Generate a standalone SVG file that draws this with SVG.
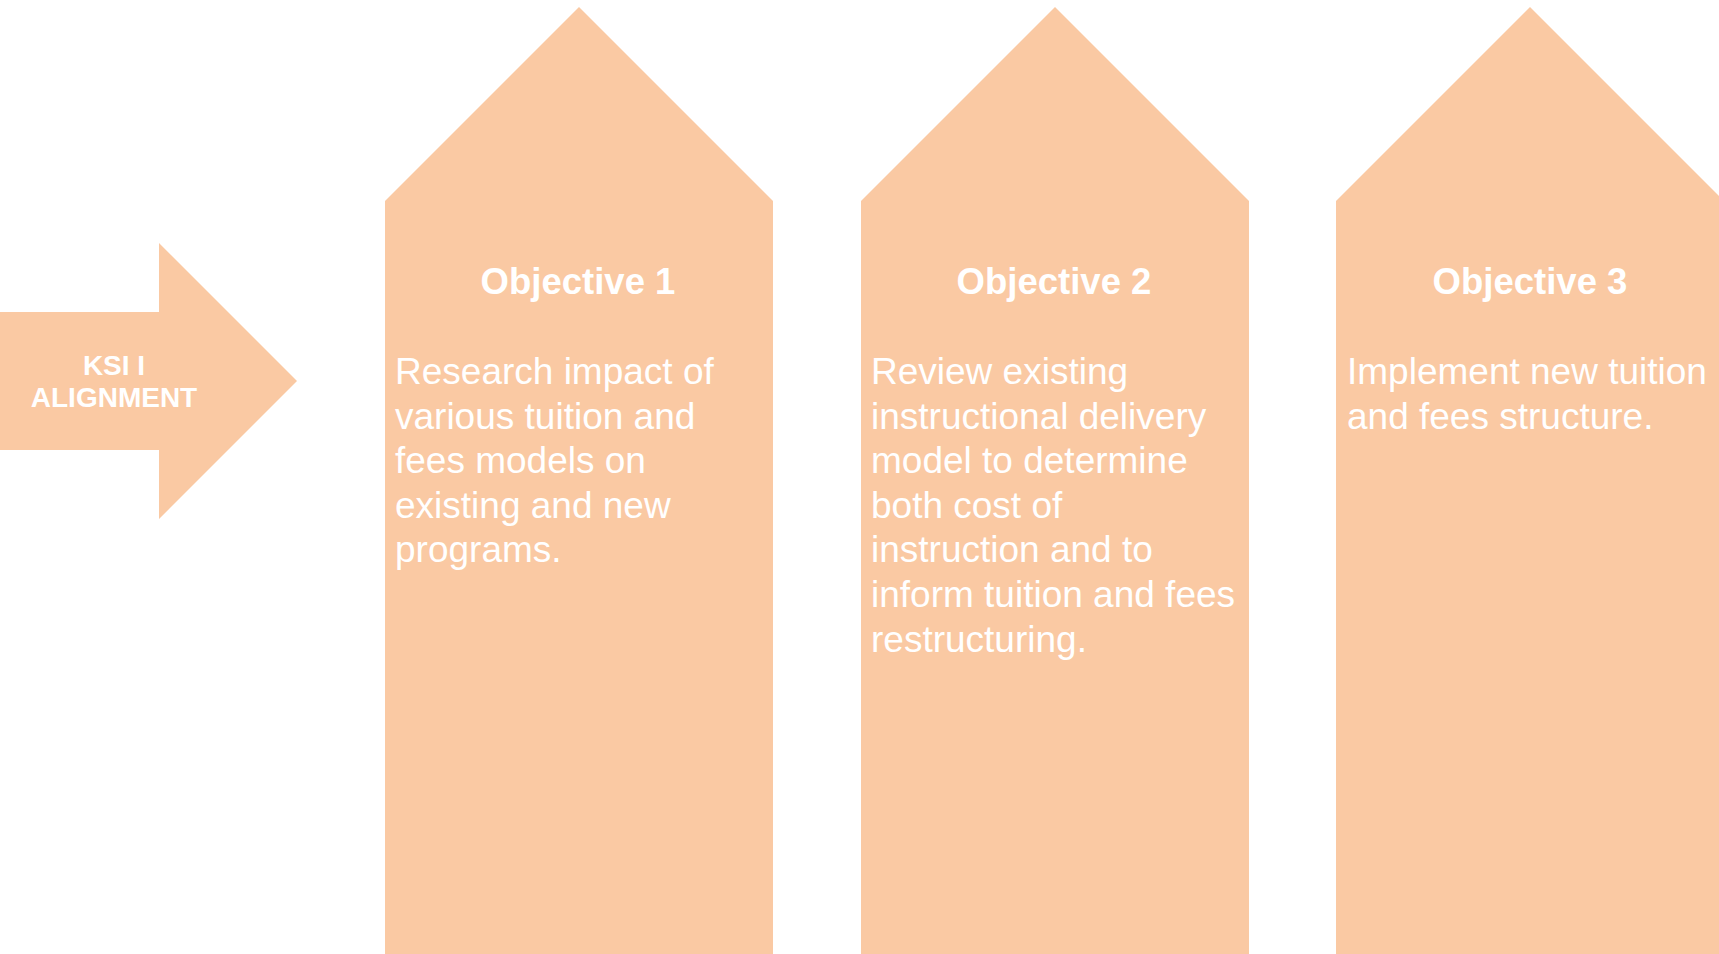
<svg xmlns="http://www.w3.org/2000/svg" width="1719" height="954" viewBox="0 0 1719 954">
  <style>
    .shape { fill: #FAC9A3; }
    .label { fill: #FFFFFF; font-family: "Liberation Sans", Arial, sans-serif; }
    .ksi { font-size: 28px; font-weight: bold; text-anchor: middle; }
    .title { font-size: 36.5px; font-weight: bold; text-anchor: middle; }
    .body { font-size: 37px; }
  </style>

  <!-- Alignment arrow pointing right -->
  <g id="ksi-alignment">
    <polygon class="shape" points="0,312 159,312 159,243 297,381 159,519 159,450 0,450"/>
    <text class="label ksi" x="114" y="375">KSI I</text>
    <text class="label ksi" x="114" y="407">ALIGNMENT</text>
  </g>

  <!-- Objective pentagons -->
  <g id="objective-1">
    <polygon class="shape" points="385,201 579,7 773,201 773,954 385,954"/>
    <text class="label title" x="578" y="294">Objective 1</text>
    <text class="label body" x="395" y="384">
      <tspan x="395" y="384">Research impact of</tspan>
      <tspan x="395" y="428.6">various tuition and</tspan>
      <tspan x="395" y="473.2">fees models on</tspan>
      <tspan x="395" y="517.8">existing and new</tspan>
      <tspan x="395" y="562.4">programs.</tspan>
    </text>
  </g>

  <g id="objective-2">
    <polygon class="shape" points="861,201 1055,7 1249,201 1249,954 861,954"/>
    <text class="label title" x="1054" y="294">Objective 2</text>
    <text class="label body" x="871" y="384">
      <tspan x="871" y="384">Review existing</tspan>
      <tspan x="871" y="428.6">instructional delivery</tspan>
      <tspan x="871" y="473.2">model to determine</tspan>
      <tspan x="871" y="517.8">both cost of</tspan>
      <tspan x="871" y="562.4">instruction and to</tspan>
      <tspan x="871" y="607">inform tuition and fees</tspan>
      <tspan x="871" y="651.6">restructuring.</tspan>
    </text>
  </g>

  <g id="objective-3">
    <polygon class="shape" points="1336,201 1530,7 1724,201 1724,954 1336,954"/>
    <text class="label title" x="1530" y="294">Objective 3</text>
    <text class="label body" x="1347" y="384">
      <tspan x="1347" y="384">Implement new tuition</tspan>
      <tspan x="1347" y="428.6">and fees structure.</tspan>
    </text>
  </g>

  <!-- No connectors between nodes -->
  <g id="connectors"/>
</svg>
